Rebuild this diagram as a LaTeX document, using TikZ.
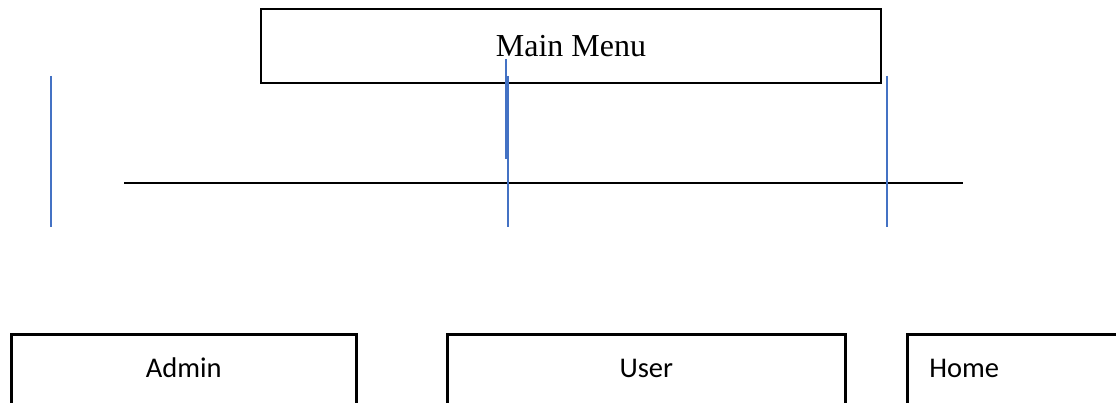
\documentclass[tikz,border=0pt]{standalone}
\usepackage{fontspec}
\setmainfont{Liberation Serif}
\newfontfamily\calibri{Carlito}
\usepackage{tikz}
\usetikzlibrary{positioning,calc}
\definecolor{linkblue}{HTML}{4472C4}

\tikzset{
	menubox/.style={draw, rectangle, line width=2.4pt, inner sep=0pt, minimum width=620pt, minimum height=74pt, font=\fontsize{32}{36}\selectfont},
	itembox/.style={draw, rectangle, line width=2.6pt, anchor=north west, inner xsep=0pt, inner ysep=0pt, text height=43pt, text depth=100pt, align=center, font=\calibri\fontsize{28.5}{34}\selectfont},
	link/.style={draw=linkblue, line width=2pt},
	bar/.style={draw=black, line width=2.2pt}
}

\begin{document}
\begin{tikzpicture}[x=1pt,y=-1pt]
		\useasboundingbox (0,0) rectangle (1116,403);
		\clip (0,0) rectangle (1116,403);
		% top box
		\node[menubox] (menu) at (571,46) {Main Menu};
		% bottom boxes
		\node[itembox, text width=345pt] (admin) at (10,333) {Admin};
		\node[itembox, text width=398pt] (user) at (446,333) {User};
		\node[itembox, text width=250pt, align=left, inner xsep=22pt] (home) at (906,333) {Home};
		% horizontal bar
		\coordinate (barL) at (124,183);
		\coordinate (barR) at (963,183);
		\draw[bar] (barL) -- (barR);
		% blue strokes
		\foreach \x/\nm in {51/left,508/mid,887/right}{
			\coordinate (\nm top) at (\x,76);
			\coordinate (\nm bot) at (\x,227);
			\draw[link] (\nm top) -- (\nm bot);
		}
		\coordinate (stub top) at (506,59);
		\coordinate (stub bot) at (506,159);
		\draw[link, line width=2.8pt] (stub top) -- (stub bot);
	\end{tikzpicture}
\end{document}
